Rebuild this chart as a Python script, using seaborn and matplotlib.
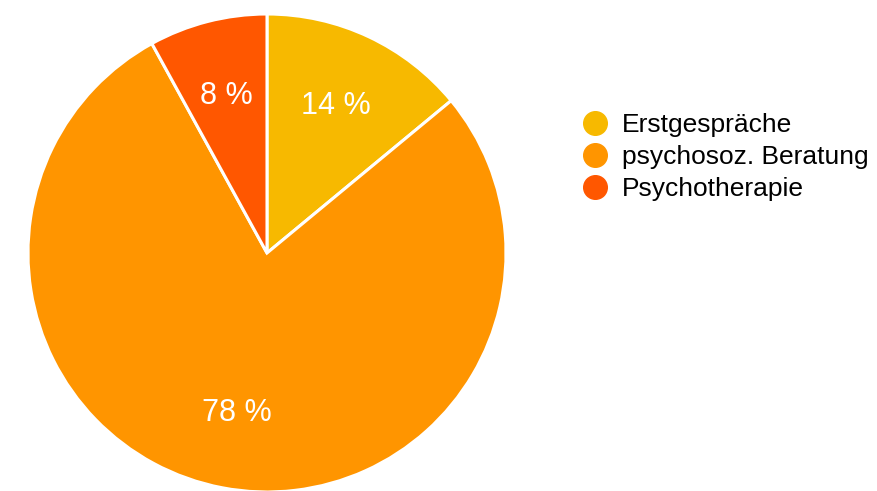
import matplotlib.pyplot as plt
import seaborn as sns
from matplotlib.lines import Line2D

labels = ["Erstgespräche", "psychosoz. Beratung", "Psychotherapie"]
shares = [14, 78, 8]
colors = ["#F7B900", "#FF9500", "#FF5700"]

sns.set_theme(style="white")
plt.rcParams["font.family"] = ["Liberation Sans", "DejaVu Sans"]

dpi = 100
W, H = 877, 491
fig = plt.figure(figsize=(W / dpi, H / dpi), dpi=dpi)

# pie centre (267, 253) px from top-left, radius 239 px
cx, cy, r = 267, 253, 239
ax = fig.add_axes([(cx - r) / W, (H - cy - r) / H, 2 * r / W, 2 * r / H])

wedges, texts, autotexts = ax.pie(
    shares,
    colors=colors,
    startangle=90,
    counterclock=False,
    radius=1,
    autopct=lambda p: f"{p:.0f} %",
    pctdistance=0.68,
    wedgeprops=dict(edgecolor="white", linewidth=2.2),
    textprops=dict(color="white", fontsize=22),
)
ax.set_xlim(-1, 1)
ax.set_ylim(-1, 1)
ax.set_aspect("equal")
ax.set_axis_off()

handles = [
    Line2D([], [], marker="o", linestyle="none", markersize=17,
           markerfacecolor=c, markeredgecolor=c)
    for c in colors
]
fig.legend(
    handles, labels,
    loc="upper left",
    bbox_to_anchor=(583 / W, 1 - 113 / H),
    frameon=False,
    fontsize=19,
    labelcolor="black",
    handlelength=0.9,
    handletextpad=0.57,
    labelspacing=0.31,
    borderpad=0,
    borderaxespad=0,
)

fig.savefig("out.png", dpi=dpi)
